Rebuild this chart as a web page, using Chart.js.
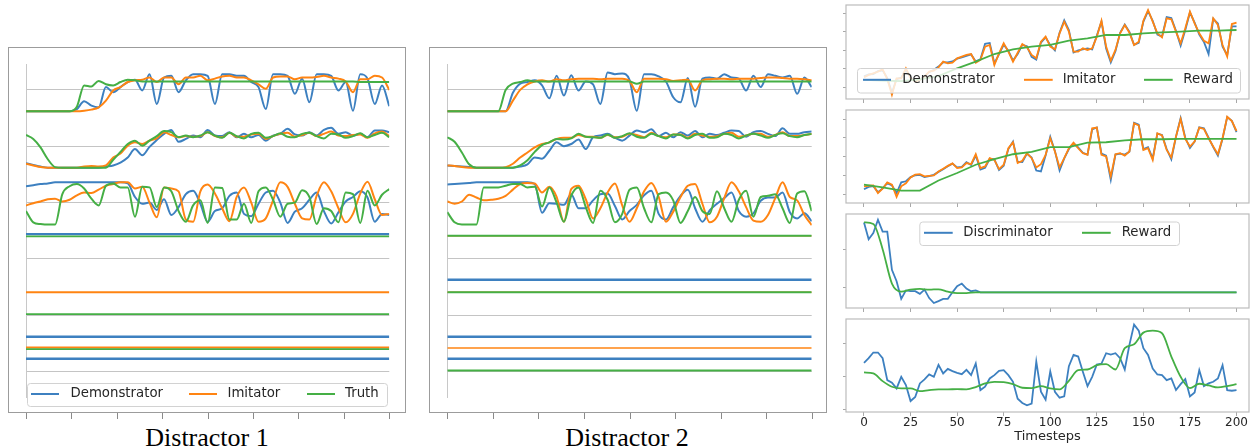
<!DOCTYPE html>
<html>
<head>
<meta charset="utf-8">
<script src="https://cdn.jsdelivr.net/npm/chart.js@4.4.1/dist/chart.umd.min.js"></script>
<style>
body { margin: 0; width: 1250px; height: 448px; background: #fff; position: relative; overflow: hidden; }
canvas { position: absolute; }
.box { position: absolute; border: 1.3px solid #9c9c9c; box-sizing: border-box; }
.cap { position: absolute; width: 240px; text-align: center; font-family: "Liberation Serif", serif; font-size: 26px; line-height: 26px; color: #000; }
</style>
</head>
<body>
<div class="box" style="left:8px;top:47px;width:398px;height:366px"></div>
<div class="box" style="left:429px;top:47px;width:398px;height:366px"></div>
<div class="cap" style="left:87px;top:425px">Distractor 1</div>
<div class="cap" style="left:507px;top:425px">Distractor 2</div>

<canvas id="d1" width="420" height="448" style="left:0;top:0"></canvas>
<canvas id="d2" width="420" height="448" style="left:420px;top:0"></canvas>
<canvas id="r1" width="420" height="106" style="left:830px;top:0"></canvas>
<canvas id="r2" width="420" height="106" style="left:830px;top:105px"></canvas>
<canvas id="r3" width="420" height="106" style="left:830px;top:209px"></canvas>
<canvas id="r4" width="420" height="134" style="left:830px;top:314px"></canvas>

<script>
// timesteps
const t4 = Array.from({length: 51}, (_, i) => i * 4);
const t25 = Array.from({length: 81}, (_, i) => i * 2.5);
const t5 = Array.from({length: 41}, (_, i) => i * 5);
const t10 = Array.from({length: 21}, (_, i) => i * 10);
const tickSteps = [0, 25, 50, 75, 100, 125, 150, 175, 200];
const gridLevels = [0, 1, 2, 3, 4, 5];

// Distractor 1
const d1DemoA = [4.62,4.62,4.62,4.62,4.62,4.62,4.62,4.66,4.80,4.72, 4.69,5.05,4.96,5.05,5.14,5.18,4.99,5.28,4.75,5.22, 5.25,4.96,5.17,5.28,5.28,5.25,4.75,5.28,5.28,5.25, 5.25,5.14,5.05,4.66,5.28,5.28,5.25,4.93,5.20,4.78, 5.28,5.28,5.25,4.99,5.14,4.63,5.28,5.20,4.75,5.08, 4.71];
const d1ImitA = [4.62,4.62,4.62,4.62,4.62,4.62,4.62,4.62,4.63,4.65, 4.69,4.81,4.99,5.05,5.14,5.17,5.18,5.22,5.14,5.22, 5.22,5.10,5.22,5.22,5.25,5.17,5.20,5.24,5.25,5.22, 5.22,5.17,5.10,5.02,5.22,5.24,5.24,5.19,5.22,5.22, 5.23,5.25,5.22,5.20,5.15,4.96,5.19,5.19,5.25,5.22, 5.00];
const d1TruthA = [4.62,4.62,4.62,4.62,4.62,4.62,4.62,4.70,5.08,5.06, 5.16,5.10,5.08,5.14,5.18,5.17,5.15,5.15,5.15,5.15, 5.15,5.15,5.15,5.15,5.15,5.15,5.15,5.15,5.15,5.15, 5.15,5.15,5.15,5.15,5.15,5.15,5.15,5.15,5.15,5.15, 5.15,5.15,5.15,5.15,5.15,5.15,5.14,5.14,5.14,5.14, 5.14];
const d1DemoB = [3.70,3.67,3.64,3.62,3.62,3.62,3.62,3.62,3.62,3.62, 3.62,3.64,3.66,3.71,3.80,3.95,3.84,3.99,4.11,4.22, 4.29,4.08,4.13,4.19,4.16,4.29,4.19,4.18,4.25,4.16, 4.22,4.16,4.20,4.10,4.19,4.22,4.31,4.21,4.19,4.25, 4.19,4.29,4.33,4.22,4.25,4.19,4.22,4.16,4.28,4.28, 4.25];
const d1ImitB = [3.69,3.66,3.63,3.62,3.62,3.62,3.62,3.62,3.64,3.65, 3.64,3.66,3.80,3.87,4.01,4.07,4.04,4.10,4.14,4.25, 4.20,4.16,4.18,4.17,4.18,4.25,4.18,4.16,4.24,4.17, 4.17,4.21,4.22,4.13,4.18,4.22,4.24,4.17,4.20,4.24, 4.18,4.22,4.26,4.19,4.18,4.20,4.21,4.15,4.23,4.26, 4.18];
const d1TruthB = [4.20,4.13,3.98,3.77,3.63,3.62,3.62,3.62,3.62,3.62, 3.62,3.62,3.76,3.90,4.04,4.10,4.01,4.10,4.18,4.27, 4.25,4.16,4.19,4.16,4.19,4.25,4.19,4.15,4.24,4.18, 4.14,4.22,4.24,4.15,4.18,4.23,4.17,4.16,4.22,4.24, 4.18,4.14,4.22,4.21,4.15,4.18,4.23,4.16,4.20,4.24, 4.16];
const d1DemoC = [3.29,3.31,3.33,3.34,3.36,3.36,3.36,3.36,3.36,3.36, 3.36,3.36,3.36,3.36,3.34,3.10,2.98,3.00,2.87,3.06, 2.78,2.92,3.15,3.21,2.98,2.66,2.85,2.90,3.12,3.18, 2.80,2.76,2.98,3.18,3.21,3.00,2.64,2.84,2.90,3.05, 3.18,2.85,2.63,2.83,3.02,3.10,3.20,3.09,2.66,2.80, 2.78];
const d1ImitC = [2.95,2.99,3.02,3.06,3.07,3.02,3.05,3.13,3.18,3.17, 3.23,3.30,3.33,3.36,3.36,3.25,3.28,3.00,2.74,3.27, 3.25,3.20,2.70,2.66,3.20,3.32,3.16,2.90,2.67,3.10, 3.27,3.00,2.66,2.72,3.04,3.36,3.28,2.98,2.72,2.70, 3.12,3.36,3.20,2.90,2.65,2.80,3.16,3.37,3.06,2.78, 2.80];
const d1TruthC = [2.85,2.65,2.62,2.61,2.61,3.15,3.29,3.33,3.25,3.07, 2.95,3.30,3.34,3.27,3.27,2.75,3.28,3.27,2.92,3.27, 3.20,2.85,2.66,2.95,3.04,2.64,3.27,3.26,2.70,2.70, 2.98,2.64,3.20,3.27,3.05,2.75,2.98,3.00,3.22,3.10, 2.62,2.90,2.85,2.65,3.18,3.15,2.64,3.21,2.95,3.14, 3.24];
const d1FlatDemo = [2.44, 0.62, 0.23];
const d1FlatImit = [1.41, 0.43];
const d1FlatTruth = [2.40, 1.02, 0.40];

// Distractor 2
const d2DemoA = [4.62,4.62,4.62,4.62,4.62,4.62,4.62,4.62,4.62,4.95, 5.11,5.14,5.17,5.08,4.85,5.25,4.90,5.26,4.99,5.15, 5.10,4.75,5.31,5.28,5.29,5.18,4.63,5.28,5.28,5.24, 5.15,4.87,4.78,5.21,4.70,5.20,5.22,5.20,5.28,5.22, 5.20,4.99,5.25,5.05,5.28,5.25,5.22,5.25,4.93,5.22, 5.05];
const d2ImitA = [4.62,4.62,4.62,4.62,4.62,4.62,4.62,4.62,4.62,4.81, 5.00,5.10,5.15,5.17,5.15,5.19,5.17,5.19,5.20,5.20, 5.20,5.19,5.20,5.20,5.20,5.16,4.96,5.20,5.20,5.20, 5.19,5.16,5.17,5.18,4.99,5.17,5.19,5.20,5.20,5.19, 5.20,5.20,5.20,5.21,5.22,5.22,5.21,5.20,5.20,5.19, 5.17];
const d2TruthA = [4.62,4.62,4.62,4.62,4.62,4.62,4.62,4.62,5.00,5.11, 5.14,5.17,5.15,5.15,5.15,5.15,5.15,5.15,5.15,5.15, 5.15,5.15,5.15,5.15,5.15,5.15,5.11,5.15,5.15,5.15, 5.15,5.15,5.15,5.15,5.15,5.15,5.15,5.15,5.15,5.15, 5.15,5.15,5.15,5.15,5.15,5.15,5.15,5.15,5.15,5.15, 5.15];
const d2DemoB = [3.66,3.65,3.64,3.63,3.62,3.62,3.62,3.62,3.62,3.62, 3.64,3.68,3.80,3.78,3.92,4.07,4.00,4.04,4.12,3.95, 4.16,4.19,4.22,4.15,4.10,4.19,4.28,4.25,4.30,4.18, 4.24,4.16,4.25,4.19,4.27,4.16,4.22,4.20,4.24,4.28, 4.27,4.17,4.25,4.27,4.22,4.18,4.32,4.22,4.22,4.25, 4.26];
const d2ImitB = [3.66,3.65,3.63,3.62,3.62,3.62,3.62,3.62,3.63,3.69, 3.80,3.89,3.98,4.04,4.07,4.13,4.15,4.15,4.20,4.17, 4.17,4.15,4.20,4.16,4.17,4.22,4.20,4.16,4.24,4.18, 4.16,4.21,4.21,4.15,4.22,4.19,4.17,4.18,4.22,4.24, 4.17,4.19,4.22,4.22,4.17,4.20,4.25,4.18,4.18,4.20, 4.22];
const d2TruthB = [4.16,4.08,3.89,3.68,3.62,3.62,3.62,3.62,3.62,3.62, 3.66,3.75,3.90,4.02,4.07,4.13,4.12,4.14,4.22,4.17, 4.16,4.15,4.21,4.15,4.18,4.23,4.17,4.15,4.22,4.18, 4.14,4.21,4.20,4.14,4.20,4.22,4.15,4.16,4.22,4.20, 4.14,4.19,4.22,4.19,4.15,4.20,4.23,4.18,4.16,4.20, 4.22];
const d2DemoC = [3.32,3.33,3.34,3.35,3.36,3.36,3.36,3.36,3.36,3.36, 3.36,3.36,3.33,2.82,2.99,2.98,2.96,3.15,2.90,2.90, 3.04,3.15,3.16,2.94,2.70,2.85,2.96,3.13,3.21,2.80, 2.70,2.92,3.12,3.23,2.90,2.66,2.86,2.98,3.08,3.18, 2.85,2.75,2.81,3.03,3.09,3.09,3.18,2.83,2.72,2.81, 2.67];
const d2ImitC = [3.02,2.98,3.02,3.14,3.09,3.04,3.05,3.07,3.12,3.23, 3.33,3.35,3.34,3.18,3.28,3.10,2.66,3.24,3.30,3.06, 2.72,2.90,3.18,3.34,2.95,2.66,2.90,3.20,3.35,3.10, 2.66,2.84,3.10,3.30,3.33,2.98,2.65,2.75,3.08,3.36, 3.20,2.92,2.68,2.66,2.78,3.08,3.36,3.10,3.04,2.78, 2.60];
const d2TruthC = [2.83,2.65,2.61,2.61,2.61,3.27,3.27,3.27,3.30,3.33, 3.33,3.27,3.28,2.93,3.27,3.00,2.66,3.12,3.27,2.92, 2.64,3.21,3.05,2.65,2.80,3.23,3.27,2.90,2.65,3.15, 3.18,3.04,2.64,2.85,3.10,2.85,2.80,3.20,2.90,2.66, 3.05,3.21,2.75,3.10,3.12,3.15,2.90,2.64,3.16,3.20, 2.85];
const d2FlatDemo = [1.63, 0.62, 0.23];
const d2FlatImit = [2.41, 1.41, 0.42];
const d2FlatTruth = [2.41, 1.41, 0.02];

// right column
const r1Demo = [0.60,0.70,0.72,0.88,0.92,0.50,-0.30,0.45,0.52,0.95, 0.52,0.35,0.42,0.60,0.82,0.95,1.12,1.35,1.35,1.40, 1.55,1.62,1.70,1.78,1.40,1.52,2.35,2.40,1.30,1.80, 2.30,1.98,1.45,1.80,2.30,2.22,1.65,1.50,2.42,2.70, 2.28,2.00,2.95,3.62,3.10,1.88,2.00,2.05,2.10,2.05, 2.80,3.55,2.10,1.35,1.95,2.95,3.40,3.00,2.30,2.40, 3.55,4.12,3.60,2.85,2.75,3.80,3.75,3.05,2.25,3.10, 4.05,3.50,2.85,2.45,1.80,3.70,3.45,2.20,1.75,3.30, 3.30];
const r1Imit = [0.54,0.67,0.76,0.85,0.97,0.45,-0.40,0.49,0.49,1.03, 0.49,0.31,0.40,0.58,0.85,0.90,1.08,1.39,1.30,1.33, 1.57,1.66,1.75,1.80,1.33,1.48,2.20,2.29,1.21,1.84, 2.38,1.93,1.39,1.87,2.34,2.16,1.75,1.57,2.47,2.74, 2.20,2.05,2.92,3.55,3.01,1.93,1.93,2.11,2.02,2.11, 2.74,3.60,2.20,1.44,2.02,2.92,3.37,2.95,2.29,2.47, 3.60,4.18,3.55,2.92,2.70,3.73,3.68,3.01,2.38,3.19, 4.09,3.46,2.92,2.52,2.38,3.73,3.37,2.29,1.66,3.42, 3.50];
const r1Reward = [0.40,0.36,0.34,0.43,0.61,1.03,1.39,1.80,2.05,2.20, 2.29,2.52,2.65,2.83,2.83,2.92,2.97,3.01,3.06,3.06, 3.10];

const r2Demo = [0.25,0.38,0.42,0.10,0.30,0.58,0.46,0.05,0.62,0.68, 0.90,1.00,1.02,0.90,0.95,1.02,1.18,1.32,1.48,1.62, 1.42,1.45,1.70,1.55,2.05,1.30,1.40,1.88,1.85,1.28, 1.50,2.40,2.80,1.72,1.70,2.15,1.95,1.25,1.20,2.05, 3.05,2.30,1.25,1.90,2.40,2.70,2.48,2.20,2.10,3.45, 3.55,2.15,2.05,0.75,2.10,2.15,2.10,2.25,3.80,3.70, 2.40,2.50,1.90,3.22,3.15,2.40,1.85,3.05,4.05,3.00, 2.45,2.80,3.56,3.50,3.00,2.50,2.05,2.95,4.10,3.90, 3.30];
const r2Imit = [0.41,0.44,0.46,0.05,0.28,0.62,0.50,-0.15,0.41,0.57, 0.88,1.03,1.06,0.94,0.97,0.99,1.20,1.35,1.50,1.63, 1.38,1.42,1.65,1.59,2.12,1.38,1.47,1.91,1.82,1.33, 1.56,2.44,2.76,1.65,1.77,2.18,1.91,1.42,1.59,2.09, 2.97,2.27,1.42,1.91,2.44,2.74,2.44,2.18,2.09,3.50, 3.54,2.09,2.00,0.94,2.12,2.18,2.05,2.27,3.77,3.65, 2.35,2.44,1.82,3.24,3.12,2.35,1.95,3.06,4.00,2.94, 2.53,2.80,3.54,3.47,2.97,2.53,2.12,2.97,4.12,3.89, 3.36];
const r2Reward = [0.50,0.35,0.18,0.18,0.72,1.12,1.56,1.86,2.12,2.25, 2.50,2.50,2.74,2.76,2.86,2.92,2.92,2.94,2.94,2.94, 2.94];

const r3Disc = [1.70,1.26,1.42,1.77,1.46,1.46,0.46,0.16,-0.30,-0.08, -0.10,-0.10,-0.17,-0.06,-0.28,-0.41,-0.36,-0.30,-0.30,-0.13, 0.03,0.10,-0.03,-0.10,-0.08,-0.13,-0.13,-0.13,-0.13,-0.13, -0.13,-0.13,-0.13,-0.13,-0.13,-0.13,-0.13,-0.13,-0.13,-0.13, -0.13,-0.13,-0.13,-0.13,-0.13,-0.13,-0.13,-0.13,-0.13,-0.13, -0.13,-0.13,-0.13,-0.13,-0.13,-0.13,-0.13,-0.13,-0.13,-0.13, -0.13,-0.13,-0.13,-0.13,-0.13,-0.13,-0.13,-0.13,-0.13,-0.13, -0.13,-0.13,-0.13,-0.13,-0.13,-0.13,-0.13,-0.13,-0.13,-0.13, -0.13];
const r3Reward = [1.70,1.66,1.00,0.10,-0.11,-0.06,-0.04,-0.06,-0.05,-0.11, -0.15,-0.15,-0.13,-0.13,-0.13,-0.13,-0.13,-0.13,-0.13,-0.13, -0.13,-0.13,-0.13,-0.13,-0.13,-0.13,-0.13,-0.13,-0.13,-0.13, -0.13,-0.13,-0.13,-0.13,-0.13,-0.13,-0.13,-0.13,-0.13,-0.13, -0.13];

const r4Demo = [1.41,1.55,1.72,1.72,1.55,0.89,0.81,0.64,0.99,0.74, 0.26,0.38,0.79,0.91,1.06,0.99,1.35,1.09,1.23,1.16, 1.11,1.07,1.20,1.04,1.39,0.59,0.69,0.94,1.04,1.17, 1.19,1.04,0.84,0.33,0.20,0.13,0.18,1.45,0.54,0.30, 1.15,0.54,0.36,0.40,1.31,1.65,1.60,1.14,0.71,0.99, 1.36,1.39,1.70,1.66,1.70,1.55,1.21,1.95,2.56,2.38, 1.85,1.65,1.24,1.06,1.04,0.89,0.94,0.59,0.77,0.92, 0.40,0.52,1.19,0.71,0.79,0.84,0.94,1.34,0.59,0.57, 0.59];
const r4Reward = [1.12,1.09,0.86,0.69,0.64,0.64,0.56,0.59,0.61,0.61, 0.62,0.61,0.68,0.79,0.84,0.83,0.77,0.66,0.65,0.71, 0.64,0.61,0.87,1.19,1.21,1.34,1.37,1.21,1.85,1.97, 2.32,2.38,2.30,1.60,0.99,0.65,0.78,0.73,0.67,0.71, 0.77];

const BLUE = '#3d80c0', ORANGE = '#ff8412', GREEN = '#45af45';
Chart.defaults.font.family = '"DejaVu Sans"';

function line(label, color, xs, ys, w, smooth) {
  return {
    label, borderColor: color, borderWidth: w, pointRadius: 0, fill: false,
    tension: 0, cubicInterpolationMode: smooth ? 'monotone' : 'default',
    data: ys.map((y, i) => ({x: xs[i], y}))
  };
}
function flat(label, color, v, w) {
  return {label, borderColor: color, borderWidth: w, pointRadius: 0, fill: false, data: [{x: 0, y: v}, {x: 200, y: v}]};
}

// frame, outer ticks and legends
const decor = {
  id: 'decor',
  afterDraw(chart, args, o) {
    const ctx = chart.ctx, a = chart.chartArea, xs = chart.scales.x;
    ctx.save();
    if (o.frame) {
      ctx.strokeStyle = o.frame;
      ctx.lineWidth = 1.2;
      ctx.strokeRect(a.left, a.top, a.right - a.left, a.bottom - a.top);
    }
    if (o.outTicks) {
      ctx.strokeStyle = '#8a8a8a';
      ctx.lineWidth = 1;
      tickSteps.forEach(v => {
        const x = Math.round(xs.getPixelForValue(v)) + 0.5;
        ctx.beginPath(); ctx.moveTo(x, o.outTicks[0]); ctx.lineTo(x, o.outTicks[1]); ctx.stroke();
      });
    }
    if (o.legend) {
      const L = o.legend, b = L.box;
      ctx.beginPath();
      ctx.roundRect(b[0] + 0.5, b[1] + 0.5, b[2], b[3], 3);
      ctx.fillStyle = 'rgba(255,255,255,0.8)';
      ctx.fill();
      ctx.strokeStyle = '#d2d2d2';
      ctx.lineWidth = 1;
      ctx.stroke();
      ctx.font = '13.3px "DejaVu Sans"';
      ctx.textBaseline = 'middle';
      L.items.forEach(it => {
        ctx.strokeStyle = it[1];
        ctx.lineWidth = 2;
        ctx.beginPath(); ctx.moveTo(it[2], L.cy); ctx.lineTo(it[3], L.cy); ctx.stroke();
        ctx.fillStyle = '#262626';
        ctx.fillText(it[0], it[4], L.cy);
      });
    }
    ctx.restore();
  }
};

// Chart.js paints dataset 0 last, so reverse to keep the later series on top
function leftChart(id, sets, padLeft, padRight, legend) {
  return new Chart(document.getElementById(id), {
    type: 'line',
    data: {datasets: sets.slice().reverse()},
    options: {
      responsive: false, animation: false,
      layout: {padding: {left: padLeft, right: padRight, top: 64, bottom: 51}},
      plugins: {legend: {display: false}, tooltip: {enabled: false}, decor: {outTicks: [413, 419], legend}},
      scales: {
        x: {type: 'linear', min: 0, max: 200, display: false},
        y: {
          min: -0.45, max: 5.46,
          afterFit: s => { s.width = 0; },
          afterBuildTicks: s => { s.ticks = gridLevels.map(v => ({value: v})); },
          ticks: {display: false},
          grid: {color: '#c4c4c4', drawTicks: false, lineWidth: 1},
          border: {color: '#c8c8c8', width: 1}
        }
      }
    },
    plugins: [decor]
  });
}

function rightChart(id, sets, yMin, yMax, yTicks, padBottom, labels, legend) {
  return new Chart(document.getElementById(id), {
    type: 'line',
    data: {datasets: sets.slice().reverse()},
    options: {
      responsive: false, animation: false,
      layout: {padding: {left: 13, right: 1, top: 5, bottom: padBottom}},
      plugins: {legend: {display: false}, tooltip: {enabled: false}, decor: {frame: '#bcbcbc', legend}},
      scales: {
        x: {
          type: 'linear', min: -9.66, max: 206.7,
          afterBuildTicks: s => { s.ticks = tickSteps.map(v => ({value: v})); },
          afterFit: s => { s.height = labels ? 36 : 4; },
          grid: {drawOnChartArea: false, tickLength: 4, color: '#a8a8a8'},
          border: {display: false},
          ticks: {display: labels, color: '#262626', padding: 0, maxRotation: 0, autoSkip: false, font: {size: 12}, callback: v => String(v)},
          title: {display: labels, text: 'Timesteps', color: '#262626', font: {size: 13}, padding: {top: 0, bottom: 3.5}}
        },
        y: {
          min: yMin, max: yMax,
          afterBuildTicks: s => { s.ticks = yTicks.map(v => ({value: v})); },
          afterFit: s => { s.width = 3; },
          grid: {drawOnChartArea: false, tickLength: 3, color: '#a8a8a8'},
          border: {display: false},
          ticks: {display: false}
        }
      }
    },
    plugins: [decor]
  });
}

leftChart('d1', [
  line('Demonstrator', BLUE, t4, d1DemoA, 2, true), line('Imitator', ORANGE, t4, d1ImitA, 2, true), line('Truth', GREEN, t4, d1TruthA, 2, true),
  line('Demonstrator', BLUE, t4, d1DemoB, 2, true), line('Imitator', ORANGE, t4, d1ImitB, 2, true), line('Truth', GREEN, t4, d1TruthB, 2, true),
  line('Demonstrator', BLUE, t4, d1DemoC, 2, true), line('Imitator', ORANGE, t4, d1ImitC, 2, true), line('Truth', GREEN, t4, d1TruthC, 2, true),
  ...d1FlatDemo.map(v => flat('Demonstrator', BLUE, v, 2.4)),
  ...d1FlatImit.map(v => flat('Imitator', ORANGE, v, 2)),
  ...d1FlatTruth.map(v => flat('Truth', GREEN, v, 1.8))
], 26, 30.7, {
  box: [27, 383, 360, 23], cy: 394,
  items: [['Demonstrator', BLUE, 31, 59, 70.5], ['Imitator', ORANGE, 189, 217, 227.5], ['Truth', GREEN, 307, 335, 345]]
});

leftChart('d2', [
  line('Demonstrator', BLUE, t4, d2DemoA, 2, true), line('Imitator', ORANGE, t4, d2ImitA, 2, true), line('Truth', GREEN, t4, d2TruthA, 2, true),
  line('Demonstrator', BLUE, t4, d2DemoB, 2, true), line('Imitator', ORANGE, t4, d2ImitB, 2, true), line('Truth', GREEN, t4, d2TruthB, 2, true),
  line('Demonstrator', BLUE, t4, d2DemoC, 2, true), line('Imitator', ORANGE, t4, d2ImitC, 2, true), line('Truth', GREEN, t4, d2TruthC, 2, true),
  ...d2FlatDemo.map(v => flat('Demonstrator', BLUE, v, 2.4)),
  ...d2FlatImit.map(v => flat('Imitator', ORANGE, v, 1.4)),
  ...d2FlatTruth.map(v => flat('Truth', GREEN, v, 2))
], 27.3, 28.3, null);

rightChart('r1', [
  line('Demonstrator', BLUE, t25, r1Demo, 1.8, false),
  line('Imitator', ORANGE, t25, r1Imit, 1.8, false),
  line('Reward', GREEN, t10, r1Reward, 1.8, false)
], -0.63, 4.45, [0, 1, 2, 3, 4], 3, false, {
  box: [27, 68, 383, 24.5], cy: 79.8,
  items: [['Demonstrator', BLUE, 33, 61, 72.3], ['Imitator', ORANGE, 194, 222.7, 232.7], ['Reward', GREEN, 314, 342.7, 353.3]]
});

rightChart('r2', [
  line('Demonstrator', BLUE, t25, r2Demo, 1.8, false),
  line('Imitator', ORANGE, t25, r2Imit, 1.8, false),
  line('Reward', GREEN, t10, r2Reward, 1.8, false)
], -0.48, 4.48, [0, 1, 2, 3, 4], 4, false, null);

rightChart('r3', [
  line('Discriminator', BLUE, t25, r3Disc, 1.8, false),
  line('Reward', GREEN, t5, r3Reward, 1.8, true)
], -0.54, 1.92, [0, 1], 3, false, {
  box: [89.3, 12.5, 259.7, 23.5], cy: 23.8,
  items: [['Discriminator', BLUE, 94, 122.7, 133.3], ['Reward', GREEN, 252, 280.7, 291.7]]
});

rightChart('r4', [
  line('Discriminator', BLUE, t25, r4Demo, 1.8, false),
  line('Reward', GREEN, t5, r4Reward, 1.8, true)
], -0.07, 2.73, [0, 1, 2], 0, true, null);
</script>
</body>
</html>
